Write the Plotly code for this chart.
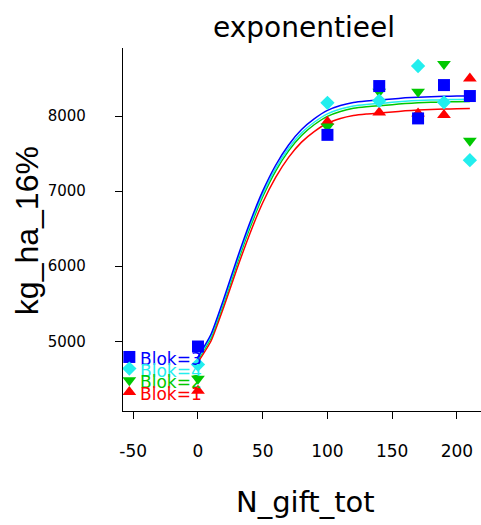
import plotly.graph_objects as go

# Observed yields per block at each nitrogen dose
n_gift = [0, 100, 140, 170, 190, 210]
blok_labels = ["Blok=1", "Blok=2", "Blok=3", "Blok=4"]
yield_blok1 = [4340, 7925, 8049, 8036, 8013, 8502]
yield_blok2 = [4500, 7860, 8324, 8324, 8693, 7671]
yield_blok3 = [4930, 7750, 8400, 7969, 8413, 8267]
yield_blok4 = [4690, 8177, 8204, 8667, 8183, 7413]

# Fitted exponential response curves per block
n_fit = [0, 10, 20, 30, 40, 50, 60, 70, 80, 90, 100, 110, 120, 130, 140,
         150, 160, 170, 180, 190, 200, 210]
fit_blok1 = [4720, 5000, 5460, 5960, 6430, 6845, 7183, 7450, 7653, 7797, 7905,
             7968, 8008, 8028, 8040, 8055, 8070, 8080, 8087, 8093, 8097, 8100]
fit_blok2 = [4755, 5045, 5515, 6025, 6505, 6925, 7268, 7537, 7742, 7888, 7997,
             8062, 8103, 8124, 8137, 8152, 8167, 8176, 8183, 8188, 8191, 8193]
fit_blok3 = [4790, 5090, 5570, 6090, 6575, 7000, 7345, 7615, 7820, 7965, 8075,
             8140, 8180, 8200, 8213, 8228, 8243, 8252, 8258, 8263, 8266, 8268]
fit_blok4 = [4770, 5065, 5540, 6055, 6538, 6960, 7303, 7572, 7776, 7921, 8030,
             8095, 8135, 8155, 8168, 8183, 8198, 8207, 8213, 8218, 8221, 8223]

x_ticks = [-50, 0, 50, 100, 150, 200]
y_ticks = [5000, 6000, 7000, 8000]

colors = {"Blok=1": "#FF0000", "Blok=2": "#00C800",
          "Blok=3": "#0000FF", "Blok=4": "#22EEEE"}
symbols = {"Blok=1": "triangle-up", "Blok=2": "triangle-down",
           "Blok=3": "square", "Blok=4": "diamond"}
sizes = {"Blok=1": 12, "Blok=2": 12, "Blok=3": 12, "Blok=4": 11}

observed = dict(zip(blok_labels, [yield_blok1, yield_blok2, yield_blok3, yield_blok4]))
fitted = dict(zip(blok_labels, [fit_blok1, fit_blok2, fit_blok3, fit_blok4]))

fig = go.Figure()

line_order = ["Blok=1", "Blok=2", "Blok=4", "Blok=3"]
for b in line_order:
    fig.add_trace(go.Scatter(
        x=n_fit, y=fitted[b], mode="lines",
        line=dict(color=colors[b], width=1.5, shape="spline", smoothing=0.5),
        showlegend=False, hoverinfo="skip"))

for b in line_order:
    fig.add_trace(go.Scatter(
        x=n_gift, y=observed[b], mode="markers",
        marker=dict(symbol=symbols[b], size=sizes[b], color=colors[b],
                    line=dict(width=0)),
        showlegend=False, name=b))

# In-plot key, listed top to bottom
key_order = ["Blok=3", "Blok=4", "Blok=2", "Blok=1"]
key_y = [4791, 4636, 4480, 4324]
key_x = -53
for b, ky in zip(key_order, key_y):
    fig.add_trace(go.Scatter(
        x=[key_x], y=[ky], mode="markers",
        marker=dict(symbol=symbols[b], size=sizes[b], color=colors[b],
                    line=dict(width=0)),
        showlegend=False, hoverinfo="skip", cliponaxis=False))
    fig.add_annotation(text=b, x=key_x, y=ky, xref="x", yref="y",
                       xanchor="left", yanchor="middle", xshift=9, yshift=-2,
                       showarrow=False,
                       font=dict(family="DejaVu Sans", size=17, color=colors[b]))

fig.update_layout(
    width=481, height=525,
    margin=dict(l=123, r=0, t=48, b=114),
    paper_bgcolor="white", plot_bgcolor="white",
    showlegend=False,
    font=dict(family="DejaVu Sans", color="black"),
)

fig.update_xaxes(
    range=[-57.9, 218.6], tickvals=x_ticks,
    ticktext=[str(v) for v in x_ticks],
    showline=True, linecolor="black", linewidth=1.3,
    ticks="outside", ticklen=7, tickwidth=1.3, tickcolor="black",
    showgrid=False, zeroline=False,
    tickfont=dict(family="DejaVu Sans", size=17, color="black"),
    ticklabelstandoff=17,
)
fig.update_yaxes(
    range=[4071, 8907], tickvals=y_ticks,
    ticktext=[str(v) for v in y_ticks],
    showline=True, linecolor="black", linewidth=1.3,
    ticks="outside", ticklen=7, tickwidth=1.3, tickcolor="black",
    showgrid=False, zeroline=False,
    tickfont=dict(family="DejaVu Sans", size=15, color="black"),
    ticklabelstandoff=26,
)

fig.add_annotation(text="exponentieel", xref="paper", yref="paper",
                   x=(304 - 123) / 358, y=1 + (48 - 28) / 362.7,
                   xanchor="center", yanchor="middle", showarrow=False,
                   font=dict(family="DejaVu Sans", size=28, color="black"))
fig.add_annotation(text="N_gift_tot", xref="paper", yref="paper",
                   x=(305 - 123) / 358, y=-(502 - 410.7) / 362.7,
                   xanchor="center", yanchor="middle", showarrow=False,
                   font=dict(family="DejaVu Sans", size=29, color="black"))
fig.add_annotation(text="kg_ha_16%", xref="paper", yref="paper",
                   x=(27 - 123) / 358, y=(410.7 - 231) / 362.7,
                   xanchor="center", yanchor="middle", showarrow=False,
                   textangle=-90,
                   font=dict(family="Liberation Sans", size=32, color="black"))

fig.write_html("out.html")
